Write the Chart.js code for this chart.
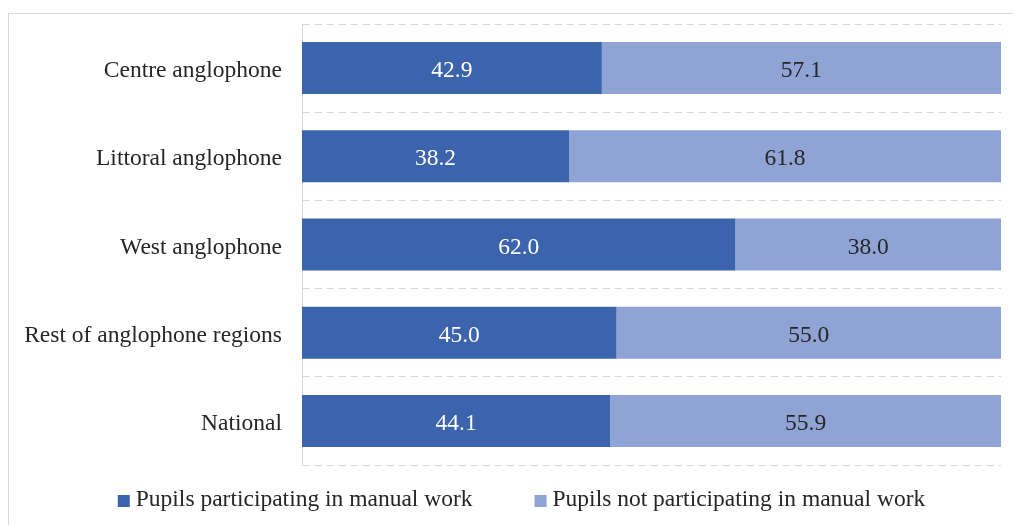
<!DOCTYPE html>
<html>
<head>
  <title>Manual work by region</title>
  <script src="https://cdn.jsdelivr.net/npm/chart.js"></script>
  <style>
    body { margin: 0; background: #fff; }
    #wrap { position: relative; width: 1013px; height: 525px; overflow: hidden; }
    #frame { position: absolute; left: 8px; top: 13px; width: 1100px; height: 600px;
             border-left: 1px solid #d9d9d9; border-top: 1px solid #d9d9d9; }
    canvas { position: absolute; left: 0; top: 0; }
  </style>
</head>
<body>
  <div id="wrap">
    <div id="frame"></div>
    <canvas id="manualWorkChart" width="1013" height="525"></canvas>
  </div>

  <script>
    const regions = ['Centre anglophone', 'Littoral anglophone', 'West anglophone', 'Rest of anglophone regions', 'National'];
    const participating = [42.9, 38.2, 62.0, 45.0, 44.1];
    const notParticipating = [57.1, 61.8, 38.0, 55.0, 55.9];

    const serif = '"Liberation Serif", "Times New Roman", serif';
    const fontSize = 23.5;

    // writes the value in the middle of each bar segment
    const barLabels = {
      id: 'barLabels',
      afterDatasetsDraw(chart) {
        const ctx = chart.ctx;
        ctx.save();
        ctx.font = fontSize + 'px ' + serif;
        ctx.textAlign = 'center';
        ctx.textBaseline = 'middle';
        chart.data.datasets.forEach((ds, i) => {
          chart.getDatasetMeta(i).data.forEach((bar, j) => {
            const p = bar.getProps(['x', 'y', 'base'], true);
            ctx.fillStyle = i === 0 ? '#ffffff' : '#262626';
            ctx.fillText(ds.data[j].toFixed(1), (p.x + p.base) / 2, p.y + 3);
          });
        });
        ctx.restore();
      }
    };

    // legend like the Excel one: small square, short gap, wide spacing between items
    const bottomLegend = {
      id: 'bottomLegend',
      afterDraw(chart) {
        const ctx = chart.ctx;
        ctx.save();
        ctx.font = fontSize + 'px ' + serif;
        ctx.textBaseline = 'alphabetic';
        const box = 12, gap = 6, spacing = 62;
        const items = chart.data.datasets.map(ds => ({
          text: ds.label, color: ds.backgroundColor, w: ctx.measureText(ds.label).width
        }));
        const total = items.reduce((s, it) => s + box + gap + it.w, 0) + spacing * (items.length - 1);
        let x = chart.width / 2 + 15 - total / 2;
        const y = chart.chartArea.bottom + 41;
        items.forEach(it => {
          ctx.fillStyle = it.color;
          ctx.fillRect(x, y - 11, box, box);
          ctx.fillStyle = '#262626';
          ctx.fillText(it.text, x + box + gap, y);
          x += box + gap + it.w + spacing;
        });
        ctx.restore();
      }
    };

    new Chart(document.getElementById('manualWorkChart'), {
      type: 'bar',
      data: {
        labels: regions,
        datasets: [{
          label: 'Pupils participating in manual work',
          data: participating,
          backgroundColor: '#3c64ad',
          categoryPercentage: 1,
          barPercentage: 0.59
        }, {
          label: 'Pupils not participating in manual work',
          data: notParticipating,
          backgroundColor: '#8fa3d5',
          categoryPercentage: 1,
          barPercentage: 0.59
        }]
      },
      options: {
        indexAxis: 'y',
        responsive: false,
        animation: false,
        layout: { padding: { top: 24, right: 12, left: 0, bottom: 60 } },
        scales: {
          x: {
            stacked: true,
            min: 0,
            max: 100,
            display: false
          },
          y: {
            stacked: true,
            afterFit: scale => {
              scale.width = 302;
              scale.paddingTop = 0;
              scale.paddingBottom = 0;
            },
            grid: { offset: true, color: '#d9d9d9', drawTicks: false },
            border: { color: '#d9d9d9', dash: [7, 5] },
            ticks: { color: '#262626', padding: 20, labelOffset: 3, font: { family: serif, size: fontSize } }
          }
        },
        plugins: {
          legend: { display: false },
          tooltip: { enabled: false }
        }
      },
      plugins: [barLabels, bottomLegend]
    });
  </script>
</body>
</html>
